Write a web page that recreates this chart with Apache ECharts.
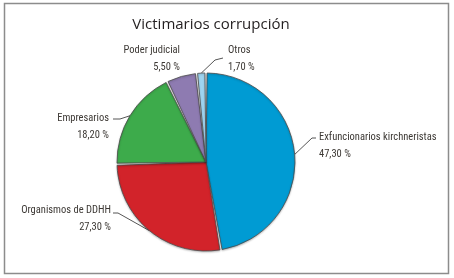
<!DOCTYPE html>
<html>
<head>
	<meta charset="utf-8"/>
	<title>Victimarios corrupción</title>
	<style>
		* {
			margin: 0;
			padding: 0;
		}
		html, body {
			width: 454px;
			height: 278px;
			background: #fff;
			overflow: hidden;
		}
		.main {
			width: 454px;
			height: 278px;
		}
	</style>
</head>
<body>

	<div id="main" class="main"></div>

	<script src="https://cdn.jsdelivr.net/npm/echarts@6/dist/echarts.min.js"></script>
	<script>
		var categories = ['Exfuncionarios kirchneristas', 'Organismos de DDHH', 'Empresarios', 'Poder judicial', 'Otros'];
		var values = [47.3, 27.3, 18.2, 5.5, 1.7];
		var colors = ['#009bd3', '#d2232a', '#3dab4b', '#8e7bb1', '#9fd5f1'];

		// where each label goes: anchor x, middle y, alignment
		var labelSpots = [
			{x: 319, y: 146, align: 'left'},
			{x: 111, y: 219, align: 'right'},
			{x: 109, y: 127, align: 'right'},
			{x: 180, y: 59, align: 'right'},
			{x: 228, y: 59, align: 'left'}
		];
		// bends of the leader lines after the pie edge (null = no line)
		var leaderBends = [
			[[312, 138], [316, 138]],
			[[118, 213], [113, 213]],
			[[120, 119], [113, 119]],
			null,
			[[215, 60], [223, 58]]
		];

		var labelFont = "'Roboto Condensed', 'DejaVu Sans Condensed', sans-serif";

		var myChart = echarts.init(document.getElementById('main'));

		var pieData = categories.map(function (name, i) {
			return {
				name: name,
				value: values[i],
				itemStyle: { color: colors[i] },
				labelLine: { show: leaderBends[i] != null }
			};
		});

		var option = {
			animation: false,
			title: {
				text: 'Victimarios corrupción',
				left: 206,
				top: 12,
				textAlign: 'center',
				textStyle: {
					fontFamily: "'Open Sans', sans-serif",
					fontWeight: 'normal',
					fontSize: 15,
					color: '#231f20'
				}
			},
			graphic: [{
				type: 'rect',
				shape: { x: 4.5, y: 3.5, width: 444, height: 270 },
				style: { fill: 'none', stroke: '#8c8c8c', lineWidth: 1.5 },
				silent: true
			}],
			series: [{
				type: 'pie',
				center: [206, 162],
				radius: 89,
				startAngle: 90,
				clockwise: true,
				padAngle: 1.4,
				avoidLabelOverlap: false,
				itemStyle: {
					borderColor: '#4a4a4a',
					borderWidth: 0.8,
					shadowColor: 'rgba(0,0,0,0.25)',
					shadowBlur: 2,
					shadowOffsetY: 1
				},
				label: {
					show: true,
					position: 'outside',
					fontFamily: labelFont,
					fontSize: 10.5,
					lineHeight: 17,
					color: '#3d3935',
					formatter: function (p) {
						return p.name + '\n' + p.value.toFixed(2).replace('.', ',') + ' %';
					}
				},
				labelLine: {
					length: 8,
					length2: 6,
					lineStyle: { color: '#555', width: 1 }
				},
				labelLayout: function (params) {
					var s = labelSpots[params.dataIndex];
					var out = { x: s.x, y: s.y, align: s.align, verticalAlign: 'middle' };
					var b = leaderBends[params.dataIndex];
					if (b && params.labelLinePoints) {
						out.labelLinePoints = [params.labelLinePoints[0]].concat(b);
					}
					return out;
				},
				emphasis: { disabled: true },
				data: pieData
			}]
		};

		myChart.setOption(option);
	</script>
</body>
</html>
